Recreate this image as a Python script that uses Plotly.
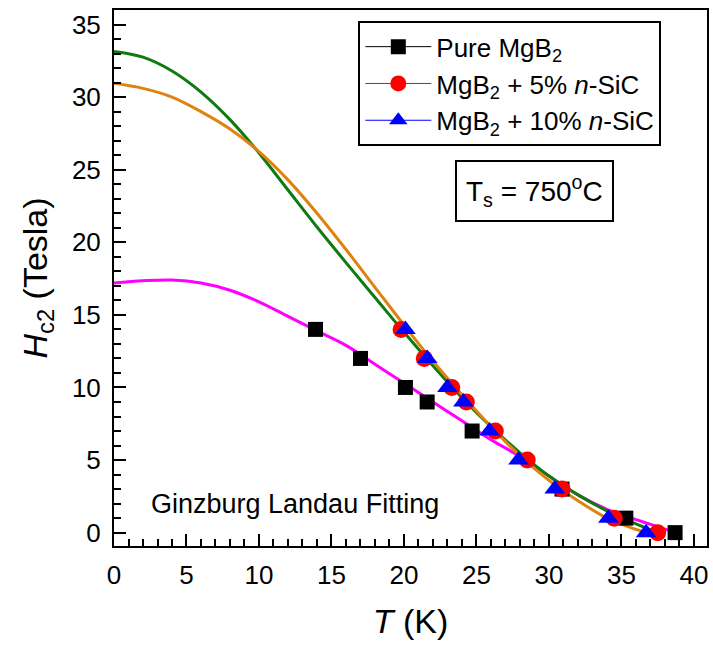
import plotly.graph_objects as go

# Measured upper critical field data
t_pure = [13.9, 17.0, 20.1, 21.6, 24.7, 30.9, 35.3, 38.7]
h_pure = [14, 12, 10, 9, 7, 3, 1, 0]

t_sic5 = [19.8, 21.4, 23.3, 24.3, 26.3, 28.5, 30.9, 34.5, 37.5]
h_sic5 = [14, 12, 10, 9, 7, 5, 3, 1, 0]

t_sic10 = [20.1, 21.6, 23.0, 24.1, 25.9, 27.9, 30.4, 34.1, 36.7]
h_sic10 = [14, 12, 10, 9, 7, 5, 3, 1, 0]

# Ginzburg-Landau fit curves
t_fit_pure = [0, 2, 4, 6, 8, 10, 12, 14, 16, 18, 20, 22, 24, 26, 28, 30, 32, 34, 36, 38.8]
h_fit_pure = [17.2, 17.35, 17.4, 17.2, 16.7, 15.9, 14.9, 13.9, 12.9, 11.6, 10.3, 9.0, 7.7,
              6.4, 5.25, 3.9, 2.6, 1.6, 0.9, 0.0]

t_fit_a = [0, 2, 4, 6, 8, 10, 12, 14, 16, 18, 20, 22, 24, 26, 28, 30, 32, 34, 36, 37.5]
h_fit_a = [33.15, 32.75, 31.8, 30.35, 28.45, 26.15, 23.6, 21.05, 18.6, 16.2, 13.8, 11.5, 9.3,
           7.3, 5.5, 3.9, 2.6, 1.5, 0.6, 0.0]

t_fit_b = [0, 2, 4, 6, 8, 10, 12, 14, 16, 18, 20, 22, 24, 26, 28, 30, 32, 34, 35.5, 36.7]
h_fit_b = [30.95, 30.6, 30.0, 29.0, 27.8, 26.25, 24.3, 22.0, 19.5, 16.9, 14.3, 11.8, 9.5,
           7.3, 5.3, 3.6, 2.2, 1.0, 0.4, 0.0]

x_range = [0, 40.9]
y_range = [-0.92, 36.0]

FONT = "Liberation Sans, Arial, sans-serif"

fig = go.Figure()

# fit curves
fig.add_trace(go.Scatter(x=t_fit_pure, y=h_fit_pure, mode="lines", line=dict(color="#FF00FF", width=3, shape="spline", smoothing=1.0), showlegend=False))
fig.add_trace(go.Scatter(x=t_fit_a, y=h_fit_a, mode="lines", line=dict(color="#0F7A0F", width=3, shape="spline", smoothing=1.0), showlegend=False))
fig.add_trace(go.Scatter(x=t_fit_b, y=h_fit_b, mode="lines", line=dict(color="#E0820F", width=3, shape="spline", smoothing=1.0), showlegend=False))

# measured points
fig.add_trace(go.Scatter(x=t_pure, y=h_pure, mode="markers", name="Pure MgB<sub>2</sub>",
                         marker=dict(symbol="square", size=15, color="black"), showlegend=False))
fig.add_trace(go.Scatter(x=t_sic5, y=h_sic5, mode="markers", name="MgB<sub>2</sub> + 5% <i>n</i>-SiC",
                         marker=dict(symbol="circle", size=17, color="#FF0000"), showlegend=False))
fig.add_trace(go.Scatter(x=t_sic10, y=h_sic10, mode="markers", name="MgB<sub>2</sub> + 10% <i>n</i>-SiC",
                         marker=dict(symbol="triangle-up", size=18, color="#0000FF"), showlegend=False))

# legend entries (line + symbol)
legend_items = [
    ("Pure MgB<sub>2</sub>", "black", "square", 15),
    ("MgB<sub>2</sub> + 5% <i>n</i>-SiC", "#FF0000", "circle", 17),
    ("MgB<sub>2</sub> + 10% <i>n</i>-SiC", "#0000FF", "triangle-up", 18),
]
for name, color, sym, size in legend_items:
    fig.add_trace(go.Scatter(x=[None], y=[None], mode="lines+markers", name=name,
                             line=dict(color=color, width=1),
                             marker=dict(symbol=sym, size=size, color=color)))

axis_common = dict(
    showline=True, linecolor="black", linewidth=2, mirror=True,
    ticks="inside", ticklen=12, tickwidth=2, tickcolor="black",
    minor=dict(ticks="inside", ticklen=7, tickwidth=2, tickcolor="black", dtick=1),
    showgrid=False, zeroline=False,
    tickfont=dict(family=FONT, size=26, color="black"),
)

fig.update_xaxes(range=x_range, dtick=5, tick0=0, ticklabelstandoff=5,
                 title=dict(text="<i>T</i> (K)", font=dict(family=FONT, size=34, color="black"), standoff=20),
                 **axis_common)
fig.update_yaxes(range=y_range, dtick=5, tick0=0, ticklabelstandoff=6,
                 title=dict(text="<i>H</i><sub>c2</sub> (Tesla)", font=dict(family=FONT, size=34, color="black"), standoff=14),
                 **axis_common)

fig.add_annotation(x=12.5, y=1.95, xref="x", yref="y", text="Ginzburg Landau Fitting",
                   showarrow=False, font=dict(family=FONT, size=27, color="black"))
fig.add_annotation(x=0.709, y=0.662, xref="paper", yref="paper", xanchor="center", yanchor="middle",
                   text="T<sub>s</sub> = 750<sup>o</sup>C", showarrow=False,
                   font=dict(family=FONT, size=28, color="black"),
                   bordercolor="black", borderwidth=2, borderpad=9, bgcolor="white")

fig.update_layout(
    width=713, height=656,
    margin=dict(l=114, r=4, t=10, b=110),
    plot_bgcolor="white", paper_bgcolor="white",
    legend=dict(x=0.412, y=0.979, xanchor="left", yanchor="top",
                bordercolor="black", borderwidth=2, bgcolor="white",
                font=dict(family=FONT, size=26, color="black"),
                itemwidth=66, tracegroupgap=0),
)

fig.write_html("out.html")
